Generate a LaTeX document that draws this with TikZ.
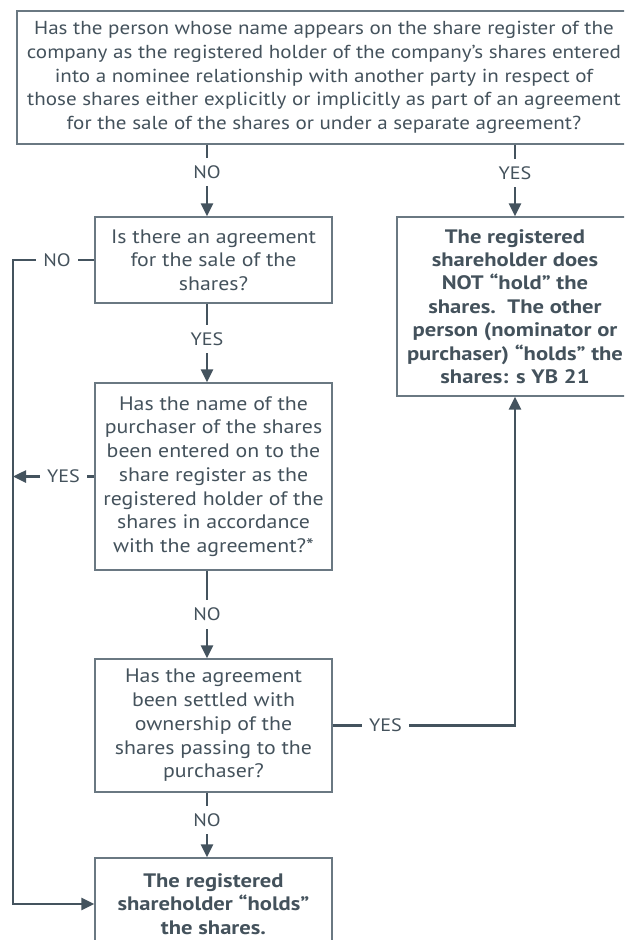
\documentclass[tikz,border=0pt]{standalone}
\usepackage{fontspec}
\setmainfont{PT Sans}[FakeStretch=1.12, BoldFeatures={FakeStretch=1.16}]
\usetikzlibrary{arrows.meta,calc}
\definecolor{txtc}{HTML}{44525C}
\definecolor{bordc}{HTML}{6A7882}
\definecolor{connc}{HTML}{44535E}
\tikzset{
  box/.style={draw=bordc, line width=1.3pt, rectangle, align=center, text=txtc,
    font=\fontsize{19.5}{23.7}\selectfont, inner sep=0pt},
  topbox/.style={box, font=\fontsize{18.8}{23.7}\selectfont},
  boldbox/.style={box, font=\fontsize{19.5}{23.4}\selectfont\bfseries},
  conn/.style={draw=connc, line width=2.5pt, -{Triangle[length=13pt,width=12pt]}},
  lab/.style={fill=white, text=txtc, font=\fontsize{18}{20}\selectfont,
    inner xsep=7pt, inner ysep=7.5pt},
}
\begin{document}
\begin{tikzpicture}[x=1pt,y=-1pt]
\useasboundingbox (0,0) rectangle (624,940);
\clip (0,0) rectangle (624,940);
\coordinate (cx) at (207,0);
\coordinate (lx) at (13,0);
\coordinate (rx) at (515,0);

\node[topbox, minimum width=614, minimum height=133] (top) at (324,77.5)
  {Has the person whose name appears on the share register of the\\
   company as the registered holder of the company’s shares entered\\
   into a nominee relationship with another party in respect of\\
   those shares either explicitly or implicitly as part of an agreement\\
   for the sale of the shares or under a separate agreement?};

\node[box, minimum width=237, minimum height=86] (q1) at (213.5,260)
  {Is there an agreement\\for the sale of the\\shares?};

\node[box, minimum width=237, minimum height=187] (q2) at (213.5,476.5)
  {Has the name of the\\purchaser of the shares\\been entered on to the\\share register as the\\registered holder of the\\shares in accordance\\with the agreement?*};

\node[box, minimum width=237, minimum height=133] (q3) at (213.5,725.5)
  {Has the agreement\\been settled with\\ownership of the\\shares passing to the\\purchaser?};

\node[boldbox, minimum width=237, minimum height=92] (fin) at (213.5,904)
  {The registered\\shareholder “holds”\\the shares.};

\node[boldbox, minimum width=236, minimum height=179] (yes) at (515,306.5)
  {The registered\\shareholder does\\NOT “hold” the\\shares.\ \ The other\\person (nominator or\\purchaser) “holds” the\\shares: s YB 21};

% connectors
\draw[conn] (top.south -| cx) -- node[lab,pos=0.38]{NO} (q1.north -| cx);
\draw[conn] (top.south -| rx) -- node[lab,pos=0.4]{YES} (yes.north -| rx);
\draw[conn] (q1.south -| cx) -- node[lab,pos=0.45]{YES} (q2.north -| cx);
\draw[conn] (q2.south -| cx) -- node[lab,pos=0.5]{NO} (q3.north -| cx);
\draw[conn] (q3.south -| cx) -- node[lab,pos=0.42]{NO} (fin.north -| cx);
\draw[conn] (q1.west) -- node[lab,pos=0.46]{NO} (q1.west -| lx) |- (fin.west);
\draw[conn] (q2.west) -- node[lab,pos=0.38]{YES} (q2.west -| lx);
\draw[conn] (q3.east) -- node[lab,pos=0.29]{YES} (q3.east -| rx) -- (yes.south -| rx);
\end{tikzpicture}
\end{document}
